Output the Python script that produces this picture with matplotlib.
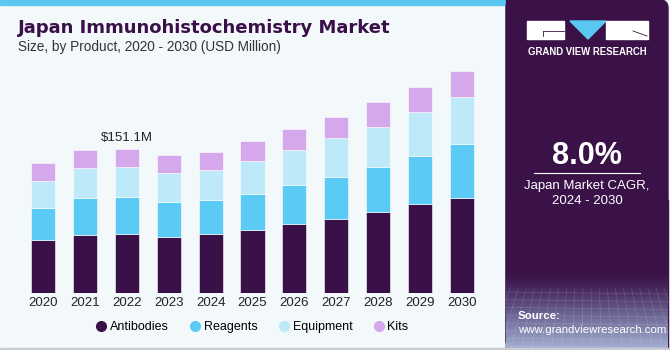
import numpy as np
import matplotlib.pyplot as plt
from matplotlib.patches import Rectangle, Polygon, FancyBboxPatch
from matplotlib.lines import Line2D
from matplotlib.colors import LinearSegmentedColormap

years = ['2020', '2021', '2022', '2023', '2024', '2025', '2026', '2027', '2028', '2029', '2030']
antibodies = [55.7, 61.0, 62.0, 59.2, 62.0, 66.6, 72.6, 78.1, 85.5, 93.2, 99.9]
reagents = [33.3, 38.9, 38.9, 36.5, 35.7, 37.9, 41.4, 44.2, 47.3, 51.2, 56.4]
equipment = [28.7, 31.5, 31.5, 30.5, 31.9, 34.7, 36.8, 40.3, 42.1, 46.3, 49.4]
kits = [18.6, 18.9, 18.7, 18.9, 18.9, 20.7, 21.8, 22.5, 25.6, 26.0, 28.1]
highlight = '$151.1M'

c_anti = '#3a1048'
c_reag = '#5bcbf5'
c_equip = '#bde9f8'
c_kits = '#d4a8ea'
bg = '#f3f8fb'
panel = '#3a1248'

plt.rcParams['font.family'] = ['Liberation Sans', 'DejaVu Sans']

fig = plt.figure(figsize=(6.7, 3.5), dpi=100)
fig.patch.set_facecolor(bg)

# page decorations (figure pixel coords)
deco = fig.add_axes([0, 0, 1, 1])
deco.set_xlim(0, 670)
deco.set_ylim(350, 0)
deco.axis('off')
deco.add_patch(Rectangle((0, 0), 506, 5, color='#5bc8f2', zorder=1))
deco.add_patch(FancyBboxPatch((506, 0), 162, 348, boxstyle='round,pad=0,rounding_size=8',
                              color=panel, zorder=1))
deco.add_patch(Rectangle((506, 0), 20, 348, color=panel, zorder=1))
deco.add_patch(Rectangle((506, 200), 162, 148, color=panel, zorder=1))
# gradient at bottom of panel
grad = np.linspace(0, 1, 100).reshape(-1, 1) ** 1.3
cm = LinearSegmentedColormap.from_list('g', [panel, '#6f6a98', '#a3aed0'])
deco.imshow(grad, extent=(506, 668, 348, 272), cmap=cm, aspect='auto', zorder=2)
for yy in np.linspace(292, 346, 8):
    deco.plot([506, 668], [yy, yy + 2], color='white', alpha=0.15, lw=0.5, zorder=3)
for xx in np.linspace(510, 664, 20):
    deco.plot([xx, xx + (xx - 587) * 0.25], [288, 348], color='white', alpha=0.15, lw=0.5, zorder=3)
deco.add_patch(Rectangle((0, 348), 670, 2, color='#c9cdd2', zorder=4))

# logo
deco.add_patch(Rectangle((527, 21), 37, 18, color='white', zorder=5))
deco.add_patch(Polygon([[570, 21], [606, 21], [588, 39]], color='#5bc8f2', zorder=5))
deco.add_patch(Rectangle((606, 21), 42, 18, color='white', zorder=5))
deco.plot([543, 564], [31, 31], color=panel, lw=0.6, zorder=6)
deco.plot([543, 543], [31, 36], color=panel, lw=0.6, zorder=6)
deco.plot([633, 647], [31, 36], color=panel, lw=0.6, zorder=6)
deco.text(587, 52, 'GRAND VIEW RESEARCH', color='white', fontsize=6.9, fontweight='bold',
          ha='center', va='center', zorder=6)

deco.text(587, 156, '8.0%', color='white', fontsize=22, fontweight='bold', ha='center', va='center', zorder=6)
deco.plot([534, 640], [173, 173], color='white', lw=0.8, zorder=6)
deco.text(587, 186, 'Japan Market CAGR,', color='white', fontsize=9.5, ha='center', va='center', zorder=6)
deco.text(587, 201, '2024 - 2030', color='white', fontsize=9.5, ha='center', va='center', zorder=6)
deco.text(518, 316, 'Source:', color='white', fontsize=8.2, fontweight='bold', ha='left', va='center', zorder=6)
deco.text(518, 330, 'www.grandviewresearch.com', color='white', fontsize=8.2, ha='left', va='center', zorder=6)

deco.text(18, 28, 'Japan Immunohistochemistry Market', color=c_anti, fontsize=13,
          fontweight='heavy', family=['DejaVu Sans'], ha='left', va='center', zorder=6)
deco.text(18, 47, 'Size, by Product, 2020 - 2030 (USD Million)', color='#333333', fontsize=9.8,
          ha='left', va='center', zorder=6)

# bar chart
ax = fig.add_axes([22 / 670, 1 - 293 / 350, 461 / 670, 233 / 350])
ax.set_facecolor('none')
x = np.arange(len(years))
w = 0.573
bottom = np.zeros(len(years))
for vals, col in [(antibodies, c_anti), (reagents, c_reag), (equipment, c_equip), (kits, c_kits)]:
    ax.bar(x, vals, w, bottom=bottom, color=col, edgecolor='#ffffff', linewidth=0.4)
    bottom = bottom + np.array(vals)
ax.text(x[2], bottom[2] + 6, highlight, ha='center', va='bottom', fontsize=9.5, color='#222222')
ax.set_xlim(-0.5, len(years) - 0.5)
ax.set_ylim(0, 245)
ax.set_xticks(x)
ax.set_xticklabels(years, fontsize=9.5, color='#222222')
ax.tick_params(axis='x', length=0, pad=3)
ax.set_yticks([])
for s in ax.spines.values():
    s.set_visible(False)

handles = [Line2D([], [], marker='o', ls='', color=c, markersize=7)
           for c in [c_anti, c_reag, c_equip, c_kits]]
fig.legend(handles, ['Antibodies', 'Reagents', 'Equipment', 'Kits'], loc='center',
           bbox_to_anchor=(251 / 670, 1 - 327 / 350), ncol=4, frameon=False, fontsize=9,
           handletextpad=0.1, columnspacing=1.5, handlelength=1.2)

fig.savefig('out.png', dpi=100, facecolor=bg)
